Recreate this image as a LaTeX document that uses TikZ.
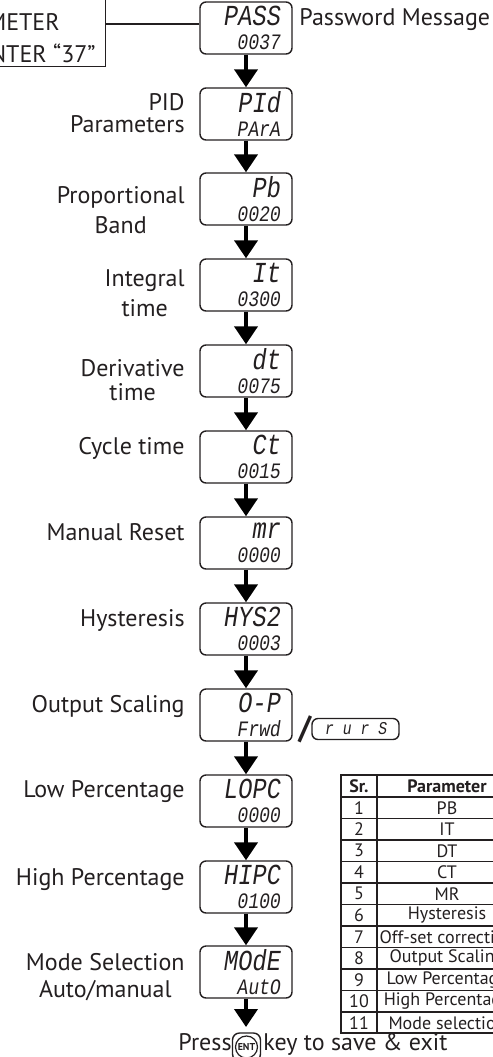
\documentclass[tikz,border=0pt]{standalone}
\usepackage{fontspec}
\usepackage{xcolor}
\usepackage{tikz}
\usetikzlibrary{arrows.meta}
\setmainfont{PT Sans}
\newfontfamily\segfont[FakeSlant=0.15,FakeStretch=0.82]{Liberation Mono}
\newcommand{\segbig}{\segfont\fontsize{14.5}{14}\selectfont}
\newcommand{\segsmall}{\segfont\fontsize{11}{11.5}\selectfont}
\definecolor{ink}{HTML}{231F20}

\begin{document}
\begin{tikzpicture}[x=0.5pt,y=-0.5pt,
  disp/.style={draw=ink, line width=0.7pt, rounded corners=3pt, minimum width=46pt, minimum height=26pt, inner sep=0pt, align=right, text width=34pt, text=ink},
  lbl/.style={font=\fontsize{12}{15}\selectfont, text=ink, inner sep=0pt},
  arr/.style={draw=black, line width=2pt, -{Triangle[width=11.5pt,length=9pt]}},
  cell/.style={font=\fontsize{9}{10}\selectfont, text=ink, inner sep=0pt},
  grid/.style={draw=ink, line width=0.7pt}]%
\useasboundingbox (0,0) rectangle (493,1057);%
\clip (0,0) rectangle (493,1057);%
% note box, cut by the left edge
\node[draw=ink, line width=0.7pt, minimum width=70pt, minimum height=45pt, anchor=south east] (note) at (106,67) {};%
\node[lbl, anchor=base east] (notea) at (60,30) {METER};%
\node[lbl, anchor=base east] (noteb) at (96,62) {NTER “37”};%
% display column
\node[disp] (pass) at (246,28) {\segbig PASS\\\segsmall 0037};%
\node[disp] (pid) at (246,114) {\segbig PId\\\segsmall PArA};%
\node[disp] (pb) at (246,199) {\segbig Pb\\\segsmall 0020};%
\node[disp] (it) at (246,285) {\segbig It\\\segsmall 0300};%
\node[disp] (dt) at (246,371) {\segbig dt\\\segsmall 0075};%
\node[disp] (ct) at (246,457) {\segbig Ct\\\segsmall 0015};%
\node[disp] (mr) at (246,543) {\segbig mr\\\segsmall 0000};%
\node[disp] (hys) at (246,629) {\segbig HYS2\\\segsmall 0003};%
\node[disp] (op) at (246,715) {\segbig O-P\\\segsmall Frwd};%
\node[disp] (lopc) at (246,801) {\segbig LOPC\\\segsmall 0000};%
\node[disp] (hipc) at (246,887) {\segbig HIPC\\\segsmall 0100};%
\node[disp] (mode) at (246,972) {\segbig MOdE\\\segsmall AutO};%
\node[font=\fontsize{16}{16}\bfseries, text=ink, inner sep=0pt] (slash) at (305,729) {/};%
\node[draw=ink, line width=0.7pt, rounded corners=3pt, minimum width=43.5pt, minimum height=10.5pt, inner sep=0pt, font=\segfont\fontsize{9}{9}\selectfont, text=ink] (rurs) at (355.5,729) {r u r S};%
% labels
\node[lbl, anchor=base west] (passlbl) at (299,25) {Password Message};%
\node[lbl, anchor=base east, align=right] (pidlbl) at (185,132) {PID\\[-4pt]Parameters};%
\node[lbl, anchor=base east, align=center] (pblbl) at (185,233) {Proportional\\Band};%
\node[lbl, anchor=base east, align=center] (itlbl) at (185,316) {Integral\\time};%
\node[lbl, anchor=base east, align=center] (dtlbl) at (185,400) {Derivative\\[-3pt]time};%
\node[lbl, anchor=base east] (ctlbl) at (185,454) {Cycle time};%
\node[lbl, anchor=base east] (mrlbl) at (185,540) {Manual Reset};%
\node[lbl, anchor=base east] (hyslbl) at (185,626) {Hysteresis};%
\node[lbl, anchor=base east] (oplbl) at (185,712) {Output Scaling};%
\node[lbl, anchor=base east] (lolbl) at (185,797) {Low Percentage};%
\node[lbl, anchor=base east] (hilbl) at (185,885) {High Percentage};%
\node[lbl, anchor=base east, align=center] (modelbl) at (185,997) {Mode Selection\\[-1.5pt]Auto/manual};%
% press line
\node[draw=ink, line width=0.7pt, rounded corners=3.5pt, minimum width=14pt, minimum height=14pt] (entkey) at (246.5,1047) {};%
\node[draw=ink, line width=0.6pt, circle, inner sep=0.6pt, font=\fontsize{5}{5}\bfseries, text=ink] (entcap) at (entkey) {ENT};%
\node[lbl, anchor=base east] (press) at (232,1050) {Press};%
\node[lbl, anchor=base west] (savelbl) at (263,1050) {key to save \& exit};%
\coordinate (endtip) at (246,1027);%
% connectors
\draw[ink, line width=0.7pt] ([yshift=2pt]pass.west) -- ([yshift=2pt]pass.west -| note.east);%
\draw[arr] (pass.south) -- (pid.north);%
\draw[arr] (pid.south) -- (pb.north);%
\draw[arr] (pb.south) -- (it.north);%
\draw[arr] (it.south) -- (dt.north);%
\draw[arr] (dt.south) -- (ct.north);%
\draw[arr] (ct.south) -- (mr.north);%
\draw[arr] (mr.south) -- (hys.north);%
\draw[arr] (hys.south) -- (op.north);%
\draw[arr] (op.south) -- (lopc.north);%
\draw[arr] (lopc.south) -- (hipc.north);%
\draw[arr] (hipc.south) -- (mode.north);%
\draw[arr] (mode.south) -- (endtip);%
% table
\draw[grid] (341,775) rectangle (517,1033);%
\draw[grid] (377,775) -- (377,1033);%
\foreach \k in {0,...,10} \draw[grid] (341,{797+\k*21.5}) -- (517,{797+\k*21.5});%
\node[cell, font=\fontsize{9}{10}\bfseries] (srhead) at (359,786) {Sr.};%
\node[cell, font=\fontsize{9}{10}\bfseries] (pmhead) at (447,786) {Parameter};%
\foreach \p [count=\i] in {PB,IT,DT,CT,MR,Hysteresis,Off-set correction,Output Scaling,Low Percentage,High Percentage,Mode selection} {%
  \node[cell] (sr\i) at (359,{797+(\i-0.5)*21.5}) {\i};%
  \node[cell] (pm\i) at (447,{797+(\i-0.5)*21.5}) {\p};%
}%
\end{tikzpicture}
\end{document}
